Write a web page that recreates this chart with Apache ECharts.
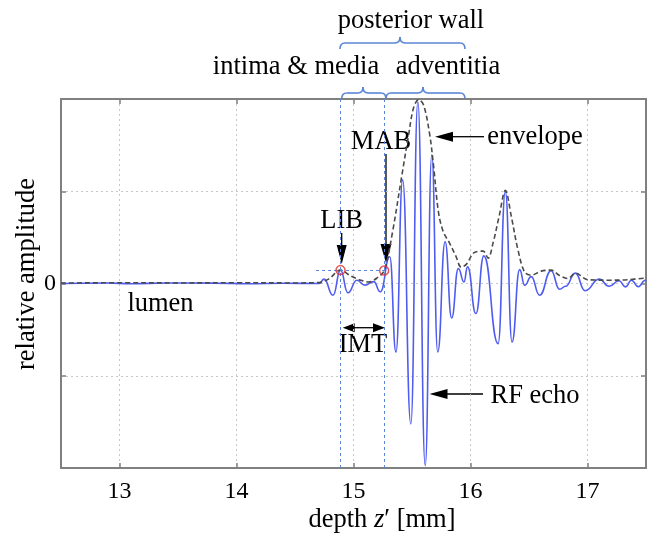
<!DOCTYPE html>
<html><head><meta charset="utf-8">
<script src="https://cdn.jsdelivr.net/npm/echarts@6/dist/echarts.min.js"></script>
<style>html,body{margin:0;padding:0;background:#fff}#c{width:648px;height:533px}</style>
</head><body><div id="c"></div>
<script>
// ---- data ----
const xTicks = [13, 14, 15, 16, 17];
const yTicks = [-2, -1, 0, 1, 2];
const rfX = [12.5, 12.9, 13.1, 13.4, 13.8, 14.1, 14.4, 14.706, 14.748, 14.825, 14.889, 14.952, 15.029, 15.097, 15.173, 15.229, 15.310, 15.363, 15.420, 15.490, 15.550, 15.613, 15.669, 15.720, 15.783, 15.839, 15.896, 15.944, 15.975, 16.046, 16.114, 16.236, 16.298, 16.355, 16.420, 16.463, 16.519, 16.590, 16.689, 16.761, 16.813, 16.895, 16.980, 17.100, 17.185, 17.270, 17.326, 17.375, 17.434, 17.494, 17.5];
const rfY = [0, 0.005, -0.003, 0.006, 0.004, -0.002, 0.003, 0, 0.047, -0.127, 0.145, -0.10, 0.036, -0.018, 0.02, -0.09, 0.29, -0.743, 1.123, -1.522, 1.97, -1.975, 1.395, -0.743, 0.452, -0.374, 0.163, 0.017, 0.18, -0.326, 0.30, -0.652, 0.996, -0.635, 0.15, -0.018, 0.074, -0.127, 0.139, -0.062, -0.03, 0.112, -0.078, 0.047, -0.029, 0.03, -0.037, 0.036, -0.035, 0.036, 0.03];
const envX = [12.5, 13.0, 13.5, 14.0, 14.5, 14.706, 14.79, 14.889, 14.978, 15.063, 15.131, 15.199, 15.262, 15.329, 15.414, 15.471, 15.513, 15.556, 15.598, 15.649, 15.683, 15.726, 15.768, 15.819, 15.875, 15.921, 15.966, 16.031, 16.108, 16.150, 16.193, 16.244, 16.298, 16.349, 16.406, 16.463, 16.519, 16.604, 16.689, 16.763, 16.831, 16.899, 17.001, 17.188, 17.341, 17.5];
const envY = [0.005, 0.008, 0.006, 0.008, 0.006, 0.01, 0.05, 0.145, 0.08, 0.036, 0.017, 0.058, 0.14, 0.525, 1.177, 1.612, 1.902, 1.992, 1.938, 1.634, 1.29, 0.775, 0.558, 0.443, 0.297, 0.177, 0.21, 0.335, 0.351, 0.275, 0.44, 0.724, 1.009, 0.726, 0.362, 0.123, 0.09, 0.134, 0.145, 0.085, 0.054, 0.112, 0.041, 0.036, 0.041, 0.06];
const boundaryX = [14.889, 15.262];   // LIB, MAB
const boundaryY = [0.145, 0.14];
const thresholdSpan = [14.68, 15.30];

// ---- chart ----
const FONT = "'Liberation Serif','Times New Roman',serif";
const FS = 24;      // tick labels
const FT = 26.5;    // titles & annotations
const AX = '#808080';
const BLUE_ANN = '#5b86d6';
const chart = echarts.init(document.getElementById('c'), null, {renderer: 'canvas'});

function arrowHead(tx, ty, dir, len, half) {
  let pts;
  if (dir === 'down') pts = [[tx, ty], [tx - half, ty - len], [tx + half, ty - len]];
  else if (dir === 'left') pts = [[tx, ty], [tx + len, ty - half], [tx + len, ty + half]];
  else pts = [[tx, ty], [tx - len, ty - half], [tx - len, ty + half]];
  return {type: 'polygon', shape: {points: pts}, style: {fill: '#000'}, silent: true};
}
function line(x1, y1, x2, y2, w, color) {
  return {type: 'line', shape: {x1, y1, x2, y2}, style: {stroke: color || '#000', lineWidth: w || 1.3}, silent: true};
}
function curve(x1, y1, cx, cy, x2, y2) {
  return {type: 'bezierCurve', shape: {x1, y1, x2, y2, cpx1: cx, cpy1: cy}, style: {stroke: BLUE_ANN, lineWidth: 1.6, fill: null}, silent: true};
}
function text(t, x, y, extra) {
  return Object.assign({type: 'text', silent: true, x, y,
    style: {text: t, font: FT + 'px ' + FONT, fill: '#000', align: 'center', verticalAlign: 'middle'}}, extra || {});
}
function brace(x1, x2, xm, yEnd, yH, yTip) {
  const r = 5;
  return {type: 'group', silent: true, children: [
    curve(x1, yEnd, x1, yH, x1 + r, yH),
    line(x1 + r, yH, xm - r, yH, 1.6, BLUE_ANN),
    curve(xm - r, yH, xm, yH, xm, yTip),
    curve(xm, yTip, xm, yH, xm + r, yH),
    line(xm + r, yH, x2 - r, yH, 1.6, BLUE_ANN),
    curve(x2 - r, yH, x2, yH, x2, yEnd)
  ]};
}

const gridLineStyle = {color: '#c8c8c8', type: [2, 3], width: 1};

const option = {
  animation: false,
  backgroundColor: '#fff',
  grid: {left: 61, right: 2, top: 99, bottom: 65, containLabel: false, outerBoundsMode: 'none'},
  xAxis: [{
    type: 'value', min: 12.5, max: 17.5, position: 'bottom',
    axisLine: {show: true, onZero: false, lineStyle: {color: AX, width: 2}},
    axisTick: {show: true, inside: true, length: 5, customValues: xTicks, lineStyle: {color: AX, width: 1.5}},
    axisLabel: {customValues: xTicks, margin: 12, color: '#000', fontFamily: FONT, fontSize: FS},
    splitLine: {show: true, lineStyle: gridLineStyle}
  }, {
    type: 'value', min: 12.5, max: 17.5, position: 'top',
    axisLine: {show: true, onZero: false, lineStyle: {color: AX, width: 2}},
    axisTick: {show: true, inside: true, length: 5, customValues: xTicks, lineStyle: {color: AX, width: 1.5}},
    axisLabel: {show: false},
    splitLine: {show: false}
  }],
  yAxis: [{
    type: 'value', min: -2, max: 2, interval: 1, position: 'left',
    axisLine: {show: true, onZero: false, lineStyle: {color: AX, width: 2}},
    axisTick: {show: true, inside: true, length: 5, lineStyle: {color: AX, width: 1.5}},
    axisLabel: {margin: 5, color: '#000', fontFamily: FONT, fontSize: FS, formatter: v => (v === 0 ? '0' : '')},
    splitLine: {show: true, lineStyle: gridLineStyle}
  }, {
    type: 'value', min: -2, max: 2, interval: 1, position: 'right',
    axisLine: {show: true, onZero: false, lineStyle: {color: AX, width: 2}},
    axisTick: {show: true, inside: true, length: 5, lineStyle: {color: AX, width: 1.5}},
    axisLabel: {show: false},
    splitLine: {show: false}
  }],
  series: [{
    name: 'RF echo', type: 'line', xAxisIndex: 0, yAxisIndex: 0,
    data: rfX.map((x, i) => [x, rfY[i]]),
    smooth: 0.5, smoothMonotone: 'x', showSymbol: false, symbol: 'none',
    lineStyle: {color: '#4f5cf0', width: 1.6}, z: 3,
    markLine: {
      silent: true, symbol: 'none', label: {show: false},
      lineStyle: {color: BLUE_ANN, type: [3, 3], width: 1},
      data: [
        {xAxis: boundaryX[0]},
        {xAxis: boundaryX[1]},
        [{coord: [thresholdSpan[0], boundaryY[0]]}, {coord: [thresholdSpan[1], boundaryY[0]]}]
      ]
    }
  }, {
    name: 'envelope', type: 'line', xAxisIndex: 0, yAxisIndex: 0,
    data: envX.map((x, i) => [x, envY[i]]),
    smooth: 0.35, showSymbol: false, symbol: 'none',
    lineStyle: {color: '#4a4a4a', width: 1.6, type: [5, 3]}, z: 4
  }, {
    name: 'boundaries', type: 'scatter', xAxisIndex: 0, yAxisIndex: 0,
    data: boundaryX.map((x, i) => [x, boundaryY[i]]),
    symbol: 'circle', symbolSize: 9,
    itemStyle: {color: 'rgba(0,0,0,0)', borderColor: '#e03030', borderWidth: 1.5}, z: 5
  }],
  graphic: [
    text('relative amplitude', 27, 274, {rotation: Math.PI / 2}),
    {type: 'text', silent: true, x: 382, y: 520,
      style: {text: '{a|depth }{b|z}{a|\u2032 [mm]}', align: 'center', verticalAlign: 'middle',
        rich: {a: {font: FT + 'px ' + FONT, fill: '#000'}, b: {font: 'italic ' + FT + 'px ' + FONT, fill: '#000'}}}},
    text('posterior wall', 411, 21),
    brace(340, 465, 400, 49, 43, 37),
    text('intima & media', 296, 67),
    text('adventitia', 448, 67),
    brace(341.7, 386, 363, 99, 93, 87),
    brace(386, 465, 423, 99, 93, 87),
    text('LIB', 341.7, 221),
    line(341.7, 233, 341.7, 250),
    arrowHead(341.7, 264, 'down', 19, 5),
    text('MAB', 381, 142.5),
    line(386, 154, 386, 248),
    arrowHead(386, 263, 'down', 19, 5.5),
    text('envelope', 535, 137.5),
    line(452, 136.7, 484, 136.7),
    arrowHead(435, 136.7, 'left', 18, 5),
    text('RF echo', 535, 396.5),
    line(447, 394, 483, 394),
    arrowHead(429.5, 394, 'left', 18, 5),
    text('IMT', 363, 345),
    line(350, 327.7, 378, 327.7),
    arrowHead(342.7, 327.7, 'left', 12, 4.5),
    arrowHead(385, 327.7, 'right', 12, 4.5),
    text('lumen', 160.5, 304)
  ]
};
chart.setOption(option);
</script>
</body></html>
